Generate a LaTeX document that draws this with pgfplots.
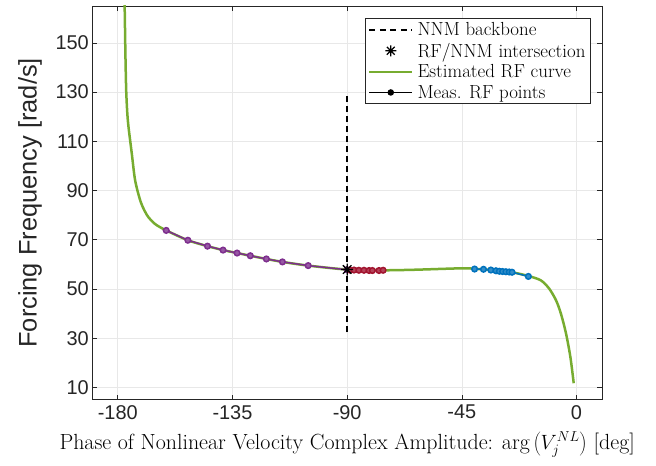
\documentclass[border=0pt]{standalone}
\usepackage{fontspec}
\usepackage{pgfplots}
\pgfplotsset{compat=1.18}
\newfontfamily\helv{Liberation Sans}

\definecolor{rfgreen}{rgb}{0.466,0.674,0.188}
\definecolor{rfpurple}{rgb}{0.494,0.184,0.556}
\definecolor{rfred}{rgb}{0.635,0.078,0.184}
\definecolor{rfblue}{rgb}{0,0.447,0.741}
\definecolor{axgray}{rgb}{0.15,0.15,0.15}

% MATLAB-style 8-armed asterisk
\pgfdeclareplotmark{mstar}{%
  \pgfpathmoveto{\pgfqpoint{-\pgfplotmarksize}{0pt}}\pgfpathlineto{\pgfqpoint{\pgfplotmarksize}{0pt}}%
  \pgfpathmoveto{\pgfqpoint{0pt}{-\pgfplotmarksize}}\pgfpathlineto{\pgfqpoint{0pt}{\pgfplotmarksize}}%
  \pgfpathmoveto{\pgfqpoint{-0.707\pgfplotmarksize}{-0.707\pgfplotmarksize}}\pgfpathlineto{\pgfqpoint{0.707\pgfplotmarksize}{0.707\pgfplotmarksize}}%
  \pgfpathmoveto{\pgfqpoint{-0.707\pgfplotmarksize}{0.707\pgfplotmarksize}}\pgfpathlineto{\pgfqpoint{0.707\pgfplotmarksize}{-0.707\pgfplotmarksize}}%
  \pgfusepathqstroke}

\begin{document}
\begin{tikzpicture}
\begin{axis}[
    scale only axis,
    width=509.7bp, height=393.7bp,
    xmin=-190, xmax=10, ymin=5, ymax=165,
    xtick={-180,-135,-90,-45,0},
    ytick={10,30,50,70,90,110,130,150},
    grid=major,
    major grid style={black!9, line width=0.6bp},
    tick align=inside,
    major tick length=5bp,
    axis line style={axgray, line width=0.6bp},
    tick style={axgray, line width=0.6bp},
    /pgf/number format/assume math mode=true,
    ticklabel style={font=\fontsize{20}{20}\helv, text=axgray},
    xticklabel style={yshift=-2bp},
    ylabel={Forcing Frequency [rad/s]},
    ylabel style={font=\fontsize{25.5}{25.5}\helv, text=axgray,
      at={(axis description cs:-0.122,0.5)}, anchor=center},
    xlabel={Phase of Nonlinear Velocity Complex Amplitude: $\arg\left(V_j^{NL}\right)$ [deg]},
    xlabel style={font=\fontsize{22}{22}\selectfont, yshift=-6bp},
    legend cell align=left,
    legend image code/.code={%
      \draw[mark repeat=2, mark phase=2, #1] plot coordinates {(0bp,0bp) (21.5bp,0bp) (43bp,0bp)};},
    legend style={at={(0.978,0.9695)}, anchor=north east,
      font=\fontsize{19}{21.5}\selectfont, draw=axgray, line width=0.6bp,
      inner xsep=3bp, inner ysep=3bp, row sep=4bp,
      nodes={inner xsep=2bp, inner ysep=1bp},
      /tikz/every odd column/.append style={column sep=2bp}},
  ]

  % estimated RF curve
  \addplot[rfgreen, line width=2.5bp, smooth, tension=0.5, forget plot] coordinates {
    (-177.5,172) (-177.3,164.7) (-177.0,145) (-176.7,130.8) (-176.3,122) (-175.8,115.9)
    (-174.5,105.0) (-173.2,94.2) (-171.2,86.0) (-169.5,81.8) (-168.0,79.2) (-166.3,77.3)
    (-164.7,75.9) (-161.0,73.8) (-152.5,69.8) (-144.8,67.4) (-138.7,65.8) (-133.2,64.6)
    (-128.0,63.5) (-121.7,62.2) (-115.4,61.0) (-105.3,59.5) (-90.0,57.9) (-76.0,57.6)
    (-64.0,57.8) (-45.0,58.4) (-40.0,58.2) (-33.6,57.7) (-29.0,57.1) (-25.3,56.8)
    (-19.0,55.3) (-14.0,53.5) (-10.7,50.1) (-8.0,45.3) (-6.1,39.9) (-4.1,31.8)
    (-2.4,22.3) (-1.1,11.7)
  };

  % measured RF points
  \addplot[rfpurple, line width=1.5bp, mark=*, mark size=2.8bp,
    mark options={fill=rfpurple!80!white}, forget plot] coordinates {
    (-161.0,73.8) (-152.5,69.8) (-144.8,67.4) (-138.7,65.8) (-133.2,64.6)
    (-128.0,63.5) (-121.7,62.2) (-115.4,61.0) (-105.3,59.5) (-90.0,57.8)
  };
  \addplot[rfred, line width=1.5bp, mark=*, mark size=2.8bp,
    mark options={fill=rfred!80!white}, forget plot] coordinates {
    (-89.0,57.7) (-87.3,57.7) (-85.4,57.6) (-83.4,57.6) (-81.4,57.5)
    (-80.1,57.5) (-77.5,57.5) (-75.9,57.6)
  };
  \addplot[rfblue, line width=1.5bp, mark=*, mark size=2.8bp,
    mark options={fill=rfblue!80!white}, forget plot] coordinates {
    (-40.0,58.1) (-36.5,58.0) (-33.6,57.7) (-31.6,57.4) (-30.3,57.2)
    (-29.0,57.1) (-27.7,57.0) (-26.4,56.9) (-25.3,56.8) (-18.9,55.1)
  };

  % NNM backbone and intersection
  \addplot[black, line width=1.8bp, dash pattern=on 6bp off 4bp, forget plot] coordinates {
    (-90,32.4) (-90,128.8)
  };
  \addplot[black, only marks, mark=mstar, mark size=6bp, line width=1.3bp, forget plot] coordinates {
    (-90,57.9)
  };

  \addlegendimage{black, line width=1.8bp, dash pattern=on 6bp off 4.5bp}
  \addlegendentry{NNM backbone}
  \addlegendimage{black, only marks, mark=mstar, mark size=5.5bp, line width=1.3bp}
  \addlegendentry{RF/NNM intersection}
  \addlegendimage{rfgreen, line width=2.5bp}
  \addlegendentry{Estimated RF curve}
  \addlegendimage{black, line width=1.8bp, mark=*, mark size=2.3bp}
  \addlegendentry{Meas. RF points}
\end{axis}
\pgfresetboundingbox
\path[use as bounding box] ([shift={(-92.3bp,-66.3bp)}]current axis.south west) rectangle ++(656bp,466bp);
\end{tikzpicture}
\end{document}
